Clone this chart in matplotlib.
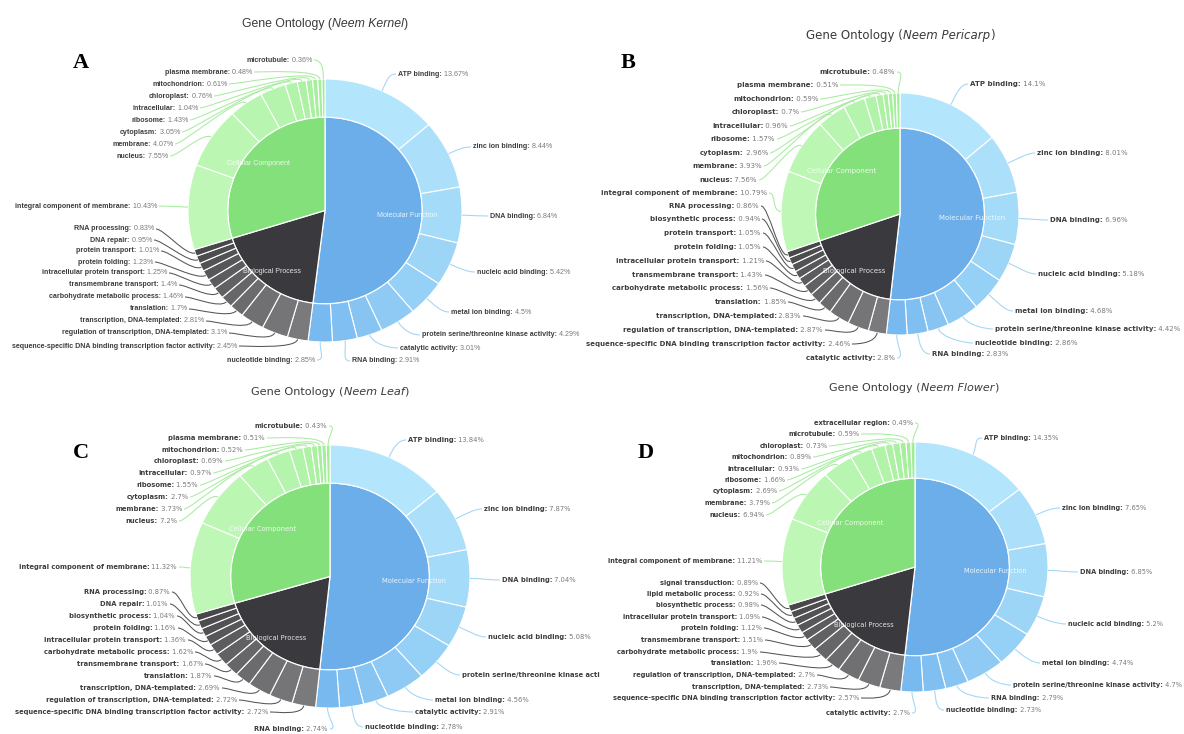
import numpy as np
import matplotlib
matplotlib.use("Agg")
import matplotlib.pyplot as plt
from matplotlib.path import Path
from matplotlib.patches import PathPatch
from matplotlib.transforms import Bbox
from matplotlib.colors import to_rgb

W, H = 1184, 734

# ---------------- data (percent of annotated transcripts) ----------------
categories = ["Molecular Function", "Biological Process", "Cellular Component"]

mf_terms_std = ["ATP binding", "zinc ion binding", "DNA binding", "nucleic acid binding",
                "metal ion binding", "protein serine/threonine kinase activity",
                "catalytic activity", "RNA binding", "nucleotide binding"]

# Neem Kernel
kernel_mf_terms = mf_terms_std
kernel_mf_pct = [13.67, 8.44, 6.84, 5.42, 4.5, 4.29, 3.01, 2.91, 2.85]
kernel_bp_terms = ["sequence-specific DNA binding transcription factor activity",
                   "regulation of transcription, DNA-templated", "transcription, DNA-templated",
                   "translation", "carbohydrate metabolic process", "transmembrane transport",
                   "intracellular protein transport", "protein folding", "protein transport",
                   "DNA repair", "RNA processing"]
kernel_bp_pct = [2.45, 3.1, 2.81, 1.7, 1.46, 1.4, 1.25, 1.23, 1.01, 0.95, 0.83]
kernel_cc_terms = ["integral component of membrane", "nucleus", "membrane", "cytoplasm", "ribosome",
                   "intracellular", "chloroplast", "mitochondrion", "plasma membrane", "microtubule"]
kernel_cc_pct = [10.43, 7.55, 4.07, 3.05, 1.43, 1.04, 0.76, 0.61, 0.48, 0.36]

# Neem Pericarp
pericarp_mf_terms = ["ATP binding", "zinc ion binding", "DNA binding", "nucleic acid binding",
                     "metal ion binding", "protein serine/threonine kinase activity",
                     "nucleotide binding", "RNA binding", "catalytic activity"]
pericarp_mf_pct = [14.1, 8.01, 6.96, 5.18, 4.68, 4.42, 2.86, 2.83, 2.8]
pericarp_bp_terms = ["sequence-specific DNA binding transcription factor activity",
                     "regulation of transcription, DNA-templated", "transcription, DNA-templated",
                     "translation", "carbohydrate metabolic process", "transmembrane transport",
                     "intracellular protein transport", "protein folding", "protein transport",
                     "biosynthetic process", "RNA processing"]
pericarp_bp_pct = [2.46, 2.87, 2.83, 1.85, 1.56, 1.43, 1.21, 1.05, 1.05, 0.94, 0.86]
pericarp_cc_terms = kernel_cc_terms
pericarp_cc_pct = [10.79, 7.56, 3.93, 2.96, 1.57, 0.96, 0.7, 0.59, 0.51, 0.48]

# Neem Leaf
leaf_mf_terms = ["ATP binding", "zinc ion binding", "DNA binding", "nucleic acid binding",
                 "protein serine/threonine kinase activity", "metal ion binding",
                 "catalytic activity", "nucleotide binding", "RNA binding"]
leaf_mf_pct = [13.84, 7.87, 7.04, 5.08, 4.83, 4.56, 2.91, 2.78, 2.74]
leaf_bp_terms = ["sequence-specific DNA binding transcription factor activity",
                 "regulation of transcription, DNA-templated", "transcription, DNA-templated",
                 "translation", "transmembrane transport", "carbohydrate metabolic process",
                 "intracellular protein transport", "protein folding", "biosynthetic process",
                 "DNA repair", "RNA processing"]
leaf_bp_pct = [2.72, 2.72, 2.69, 1.87, 1.67, 1.62, 1.36, 1.16, 1.04, 1.01, 0.87]
leaf_cc_terms = kernel_cc_terms
leaf_cc_pct = [11.32, 7.2, 3.73, 2.7, 1.55, 0.97, 0.69, 0.52, 0.51, 0.43]

# Neem Flower
flower_mf_terms = ["ATP binding", "zinc ion binding", "DNA binding", "nucleic acid binding",
                   "metal ion binding", "protein serine/threonine kinase activity",
                   "RNA binding", "nucleotide binding", "catalytic activity"]
flower_mf_pct = [14.35, 7.65, 6.85, 5.2, 4.74, 4.7, 2.79, 2.73, 2.7]
flower_bp_terms = ["sequence-specific DNA binding transcription factor activity",
                   "transcription, DNA-templated", "regulation of transcription, DNA-templated",
                   "translation", "carbohydrate metabolic process", "transmembrane transport",
                   "protein folding", "intracellular protein transport", "biosynthetic process",
                   "lipid metabolic process", "signal transduction"]
flower_bp_pct = [2.57, 2.73, 2.7, 1.96, 1.9, 1.51, 1.12, 1.09, 0.98, 0.92, 0.89]
flower_cc_terms = ["integral component of membrane", "nucleus", "membrane", "cytoplasm", "ribosome",
                   "intracellular", "mitochondrion", "chloroplast", "microtubule", "extracellular region"]
flower_cc_pct = [11.21, 6.94, 3.79, 2.69, 1.66, 0.93, 0.89, 0.73, 0.59, 0.49]

# ---------------- label anchors (pixels from top-left) ----------------
kernel_mf_xy = [(398, 74), (473, 147), (490, 216), (477, 272), (451, 312), (422, 335),
                (400, 348), (352, 361), (315, 360)]
kernel_bp_xy = [(237, 346), (227, 333), (204, 321), (187, 309), (183, 297), (177, 285),
                (167, 273), (153, 262), (159, 251), (152, 240), (154, 229)]
kernel_cc_xy = [(157, 206), (168, 156), (173, 144), (180, 132), (188, 120), (198, 108),
                (212, 96), (227, 84), (252, 72), (312, 60)]

pericarp_mf_xy = [(970, 84), (1037, 153), (1050, 220), (1038, 274), (1015, 311), (995, 329),
                  (975, 343), (932, 354), (895, 358)]
pericarp_bp_xy = [(850, 344), (823, 330), (801, 316), (786, 302), (768, 288), (763, 275),
                  (764, 261), (761, 247), (761, 233), (760, 219), (759, 206)]
pericarp_cc_xy = [(767, 193), (757, 180), (762, 166), (768, 153), (775, 139), (788, 126),
                  (799, 112), (818, 99), (838, 85), (895, 72)]

leaf_mf_xy = [(408, 440), (484, 509), (502, 580), (488, 637), (462, 675), (435, 700),
              (415, 712), (365, 727), (328, 729)]
leaf_bp_xy = [(268, 712), (237, 700), (220, 688), (212, 676), (203, 664), (193, 652),
              (186, 640), (176, 628), (175, 616), (168, 604), (170, 592)]
leaf_cc_xy = [(177, 567), (177, 521), (182, 509), (188, 497), (198, 485), (211, 473),
              (223, 461), (243, 450), (265, 438), (327, 426)]

flower_mf_xy = [(984, 438), (1062, 508), (1080, 572), (1068, 624), (1042, 663), (1013, 685),
                (991, 698), (946, 710), (910, 713)]
flower_bp_xy = [(859, 698), (828, 687), (815, 675), (777, 663), (758, 652), (763, 640),
                (762, 628), (760, 617), (759, 605), (759, 594), (758, 583)]
flower_cc_xy = [(762, 561), (764, 515), (770, 503), (777, 491), (785, 480), (799, 469),
                (811, 457), (827, 446), (859, 434), (913, 423)]

panels = [
    dict(tissue="Neem Kernel", letter="A", cx=325, cy=210.5, rx=137, ry=131.5,
         family=["Liberation Sans", "DejaVu Sans"], lsize=5.1, tsize=8.8, title_xy=(325, 24),
         letter_xy=(81, 63), clip_x=None,
         mf=(kernel_mf_terms, kernel_mf_pct, kernel_mf_xy),
         bp=(kernel_bp_terms, kernel_bp_pct, kernel_bp_xy),
         cc=(kernel_cc_terms, kernel_cc_pct, kernel_cc_xy)),
    dict(tissue="Neem Pericarp", letter="B", cx=900, cy=214, rx=119, ry=121,
         family=["DejaVu Sans"], lsize=5.0, tsize=8.5, title_xy=(900, 36),
         letter_xy=(628, 63), clip_x=None,
         mf=(pericarp_mf_terms, pericarp_mf_pct, pericarp_mf_xy),
         bp=(pericarp_bp_terms, pericarp_bp_pct, pericarp_bp_xy),
         cc=(pericarp_cc_terms, pericarp_cc_pct, pericarp_cc_xy)),
    dict(tissue="Neem Leaf", letter="C", cx=330, cy=576.5, rx=140, ry=131.5,
         family=["DejaVu Sans"], lsize=4.9, tsize=8.1, title_xy=(330, 392),
         letter_xy=(81, 453), clip_x=600,
         mf=(leaf_mf_terms, leaf_mf_pct, leaf_mf_xy),
         bp=(leaf_bp_terms, leaf_bp_pct, leaf_bp_xy),
         cc=(leaf_cc_terms, leaf_cc_pct, leaf_cc_xy)),
    dict(tissue="Neem Flower", letter="D", cx=915, cy=567, rx=133, ry=125,
         family=["DejaVu Sans"], lsize=4.75, tsize=8.0, title_xy=(914, 388),
         letter_xy=(646, 453), clip_x=None,
         mf=(flower_mf_terms, flower_mf_pct, flower_mf_xy),
         bp=(flower_bp_terms, flower_bp_pct, flower_bp_xy),
         cc=(flower_cc_terms, flower_cc_pct, flower_cc_xy)),
]

# ---------------- styling ----------------
INNER = 0.71
inner_colors = {"mf": "#6caeea", "bp": "#3a3a3e", "cc": "#84e07a"}
outer_ramp = {"mf": ("#b3e6fc", "#78b9ef"),
              "bp": ("#7a7a7c", "#48484b"),
              "cc": ("#bff7b7", "#a0ed96")}
connector_colors = {"mf": "#9fd6f6", "bp": "#555558", "cc": "#a8eca0"}
NAME_COLOR = "#3d3d3d"
VALUE_COLOR = "#7a7a7a"


def ramp(c0, c1, n):
    a, b = np.array(to_rgb(c0)), np.array(to_rgb(c1))
    return [tuple(a + (b - a) * t) for t in np.linspace(0, 1, n)]


fig = plt.figure(figsize=(W / 100, H / 100), dpi=100)
fig.patch.set_facecolor("white")
renderer = fig.canvas.get_renderer()


def mixed_title(xc, y, parts, size, family):
    texts, widths = [], []
    for s, style in parts:
        t = fig.text(0, 0, s, fontsize=size, family=family, style=style,
                     color="#3a3a3a", ha="left", va="center")
        widths.append(t.get_window_extent(renderer=renderer).width)
        texts.append(t)
    x = xc - sum(widths) / 2
    for t, w in zip(texts, widths):
        t.set_position((x / W, 1 - y / H))
        x += w


def draw_panel(p):
    cx, cy, rx, ry = p["cx"], p["cy"], p["rx"], p["ry"]
    ax = fig.add_axes([0, 0, 1, 1])

    def to_data(px, py):
        return (px - cx) / rx, (cy - py) / ry

    keys = ["mf", "bp", "cc"]
    totals = [sum(p[k][1]) for k in keys]
    ax.pie(totals, radius=INNER, startangle=90, counterclock=False,
           colors=[inner_colors[k] for k in keys],
           wedgeprops=dict(edgecolor="white", linewidth=0.9))

    outer_vals, outer_cols = [], []
    for k in keys:
        vals = p[k][1]
        outer_vals += list(vals)
        outer_cols += ramp(*outer_ramp[k], len(vals))
    ax.pie(outer_vals, radius=1.0, startangle=90, counterclock=False, colors=outer_cols,
           wedgeprops=dict(width=1 - INNER, edgecolor="white", linewidth=0.8))

    ax.set_aspect("auto")
    ax.set_xlim(-cx / rx, (W - cx) / rx)
    ax.set_ylim(-(H - cy) / ry, cy / ry)
    ax.axis("off")
    ax.patch.set_visible(False)

    grand = sum(outer_vals)
    fam = p["family"]
    fs = p["lsize"]
    clip = Bbox.from_extents(0, 0, p["clip_x"], H) if p["clip_x"] else None

    # inner category labels
    cum = 0.0
    for k, name, tot in zip(keys, categories, totals):
        th = np.deg2rad(360 * (cum + tot / 2) / grand)
        px = cx + 0.85 * INNER * rx * np.sin(th)
        py = cy - 0.85 * INNER * ry * np.cos(th)
        ax.text(*to_data(px, py), name, ha="center", va="center", color="white",
                alpha=0.85, fontsize=fs, family=fam)
        cum += tot

    # outer term labels with connectors
    cum = 0.0
    for k in keys:
        terms, vals, xy = p[k]
        n = len(vals)
        for i, (term, v, (lx, ly)) in enumerate(zip(terms, vals, xy)):
            th = np.deg2rad(360 * (cum + v / 2) / grand)
            cum += v
            ex, ey = cx + rx * np.sin(th), cy - ry * np.cos(th)
            ox, oy = cx + (rx + 10) * np.sin(th), cy - (ry + 10) * np.cos(th)
            text_left = (k != "mf") or (i == n - 1)
            if text_left:
                ax_, cx2 = lx + 2, lx + 10
            else:
                ax_, cx2 = lx - 2, lx - 10
            verts = [to_data(ex, ey), to_data(ox, oy), to_data(cx2, ly), to_data(ax_, ly)]
            path = Path(verts, [Path.MOVETO, Path.CURVE4, Path.CURVE4, Path.CURVE4])
            ax.add_patch(PathPatch(path, facecolor="none", edgecolor=connector_colors[k],
                                   linewidth=0.75))

            name_kw = dict(fontsize=fs, family=fam, fontweight="bold", color=NAME_COLOR, va="center")
            val_kw = dict(fontsize=fs, family=fam, color=VALUE_COLOR, va="center")
            label_val = f" {v:g}%"
            if text_left:
                t_val = ax.text(*to_data(lx, ly), label_val, ha="right", **val_kw)
                t_name = ax.annotate(f"{term}:", xy=(0, 0.5), xycoords=t_val, ha="right", **name_kw)
            else:
                t_name = ax.text(*to_data(lx, ly), f"{term}:", ha="left", **name_kw)
                t_val = ax.annotate(label_val, xy=(1, 0.5), xycoords=t_name, ha="left", **val_kw)
            if clip is not None:
                for t in (t_val, t_name):
                    t.set_clip_on(True)
                    t.set_clip_box(clip)

    # title and panel letter
    tx, ty = p["title_xy"]
    mixed_title(tx, ty, [("Gene Ontology (", "normal"), (p["tissue"], "italic"), (")", "normal")],
                p["tsize"], fam)
    lx, ly = p["letter_xy"]
    fig.text(lx / W, 1 - ly / H, p["letter"], fontsize=16, family=["Liberation Serif", "DejaVu Serif"],
             fontweight="bold", color="black", ha="center", va="center")


for p in panels:
    draw_panel(p)

fig.savefig("out.png", dpi=100, facecolor="white")
